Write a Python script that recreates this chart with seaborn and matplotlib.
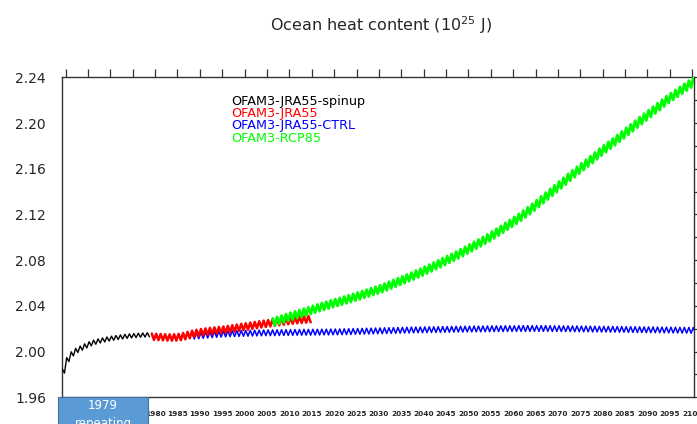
#!/usr/bin/env python3

import numpy as np
import pandas as pd
import matplotlib
matplotlib.use("Agg")
import matplotlib.pyplot as plt
import seaborn as sns
from matplotlib.patches import Rectangle
from matplotlib.ticker import MultipleLocator

# annual mean ocean heat content (1e25 J)
spinup_start = 1959
spinup_ohc = [1.983, 1.993, 1.998, 2.001, 2.003, 2.005, 2.0068, 2.0082, 2.0093, 2.0102,
              2.011, 2.0117, 2.0123, 2.0128, 2.0133, 2.0137, 2.014, 2.0143, 2.0145, 2.0147]

jra55_start = 1979
jra55_ohc = [2.0130, 2.0128, 2.0126, 2.0124, 2.0123, 2.0124, 2.0127, 2.0135, 2.0145, 2.0155,
             2.0163, 2.0170, 2.0175, 2.0180, 2.0184, 2.0188, 2.0192, 2.0197, 2.0203, 2.0209,
             2.0215, 2.0220, 2.0226, 2.0232, 2.0238, 2.0243, 2.0248, 2.0253, 2.0258, 2.0263,
             2.0267, 2.0271, 2.0275, 2.0278, 2.0281, 2.0284]

ctrl_start = 1988
ctrl_ohc = [2.0135, 2.0138, 2.0141, 2.0144, 2.0147, 2.015, 2.0152, 2.0154, 2.0156, 2.0157,
            2.0158, 2.0159,
            2.016, 2.0161, 2.0162, 2.0163, 2.0164, 2.0165, 2.0165, 2.0166, 2.0166, 2.0167,
            2.0167, 2.0168, 2.0168, 2.0169, 2.0169, 2.017, 2.017, 2.0171, 2.0171, 2.0172,
            2.0172, 2.0173, 2.0174, 2.0175, 2.0176, 2.0177, 2.0178, 2.0179, 2.018, 2.0181,
            2.0182, 2.0183, 2.0184, 2.0185, 2.0186, 2.0187, 2.0188, 2.0189, 2.019, 2.019,
            2.0191, 2.0192, 2.0192, 2.0193, 2.0194, 2.0194, 2.0195, 2.0196, 2.0196, 2.0197,
            2.0197, 2.0198, 2.0198, 2.0199, 2.0199, 2.02, 2.02, 2.02, 2.0201, 2.0201,
            2.0201, 2.0202, 2.0202, 2.0202, 2.0202, 2.0202, 2.0202, 2.0202, 2.0201, 2.0201,
            2.0201, 2.02, 2.02, 2.0199, 2.0199, 2.0198, 2.0198, 2.0197, 2.0197, 2.0196,
            2.0196, 2.0195, 2.0195, 2.0194, 2.0194, 2.0193, 2.0193, 2.0192, 2.0192, 2.0191,
            2.0191, 2.019, 2.019, 2.0189, 2.0189, 2.0188, 2.0188, 2.0187, 2.0187, 2.0186,
            2.0186]

rcp85_start = 2006
rcp85_ohc = [2.026, 2.0273, 2.0285, 2.0298,
             2.031, 2.0322, 2.0334, 2.0346, 2.0358, 2.037, 2.0383, 2.0395, 2.0406, 2.0418,
             2.0429, 2.044, 2.0452, 2.0463, 2.0475, 2.0487, 2.05, 2.0512, 2.0525, 2.0537,
             2.055, 2.0565, 2.0581, 2.0597, 2.0613, 2.0629, 2.0645, 2.0661, 2.0678, 2.0695,
             2.0713, 2.0731, 2.075, 2.0768, 2.0787, 2.0806, 2.0825, 2.0845, 2.0866, 2.0887,
             2.0908, 2.093, 2.0951, 2.0973, 2.0995, 2.102, 2.1045, 2.107, 2.1096, 2.1122,
             2.1148, 2.1175, 2.1204, 2.1233, 2.1263, 2.1295, 2.1328, 2.1361, 2.1393, 2.1425,
             2.1458, 2.1491, 2.1525, 2.1556, 2.1587, 2.1618, 2.1649, 2.168, 2.1712, 2.1745,
             2.1775, 2.1805, 2.1835, 2.1865, 2.1896, 2.1927, 2.1958, 2.199, 2.2021, 2.2052,
             2.2082, 2.2113, 2.2143, 2.2174, 2.2205, 2.2232, 2.2259, 2.2286, 2.2313, 2.234,
             2.2367]

# half of the seasonal peak-to-trough swing seen on each curve
seasonal_swing = {
    "OFAM3-JRA55-spinup": 0.0018,
    "OFAM3-JRA55": 0.0028,
    "OFAM3-JRA55-CTRL": 0.0025,
    "OFAM3-RCP85": 0.003,
}

ohc_ticks = [1.96, 2.00, 2.04, 2.08, 2.12, 2.16, 2.20, 2.24]
year_ticks = list(range(1960, 2101, 5))

runs = [
    ("OFAM3-JRA55-spinup", spinup_start, spinup_ohc),
    ("OFAM3-JRA55", jra55_start, jra55_ohc),
    ("OFAM3-JRA55-CTRL", ctrl_start, ctrl_ohc),
    ("OFAM3-RCP85", rcp85_start, rcp85_ohc),
]

# two points a year: seasonal peak then trough around the annual mean
rows = []
for name, start, vals in runs:
    sw = seasonal_swing[name]
    for i, v in enumerate(vals):
        rows.append((name, start + i + 0.25, v + sw))
        rows.append((name, start + i + 0.75, v - sw))
df = pd.DataFrame(rows, columns=["run", "year", "ohc"])

sns.set_style("white")
plt.rcParams["font.family"] = ["DejaVu Sans"]

fig = plt.figure(figsize=(6.97, 4.24), dpi=100)
ax = fig.add_axes([62 / 697, 26.7 / 424, 632 / 697, 320 / 424])

styles = {
    "OFAM3-JRA55-CTRL": ("#0000ff", 1.1, 2),
    "OFAM3-JRA55": ("#ff0000", 1.8, 3),
    "OFAM3-RCP85": ("#00ff00", 2.0, 4),
    "OFAM3-JRA55-spinup": ("black", 1.0, 5),
}
for name in ["OFAM3-JRA55-CTRL", "OFAM3-JRA55", "OFAM3-RCP85", "OFAM3-JRA55-spinup"]:
    c, lw, z = styles[name]
    sns.lineplot(data=df[df.run == name], x="year", y="ohc", color=c, linewidth=lw,
                 estimator=None, sort=False, ax=ax, zorder=z)

ax.set_xlim(1959.2, 2100.4)
ax.set_ylim(1.96, 2.24)
ax.set_xlabel("")
ax.set_ylabel("")
ax.set_xticks(year_ticks)
ax.set_xticklabels([str(y) if y >= 1980 else "" for y in year_ticks],
                   fontsize=5.3, fontweight="bold")
ax.set_yticks(ohc_ticks)
ax.set_yticklabels([f"{t:.2f}" for t in ohc_ticks], fontsize=10)
ax.yaxis.set_minor_locator(MultipleLocator(0.02))
ax.tick_params(axis="both", which="both", direction="out", top=True, right=True,
               length=5.5, width=0.9, color="#333333")
ax.tick_params(axis="x", pad=4.5)
ax.tick_params(axis="y", pad=6)
for s in ax.spines.values():
    s.set_color("#333333")
    s.set_linewidth(1.0)

fig.text(381 / 697, 1 - 25 / 424, "Ocean heat content (10$^{25}$ J)",
         ha="center", va="center", fontsize=11.5)

legend_y = [101, 113.3, 125.6, 138]
for (name, _, _), yy in zip(runs, legend_y):
    fig.text(231.5 / 697, 1 - yy / 424, name, color=styles[name][0],
             ha="left", va="center", fontsize=9.2)

# blue label box pasted under the spin-up years
fig.patches.append(Rectangle((58 / 697, -20 / 424), 89.5 / 697, 47 / 424,
                             transform=fig.transFigure, facecolor="#5b9bd5",
                             edgecolor="#41719c", linewidth=0.8, zorder=10))
fig.text(103 / 697, 1 - 405.5 / 424, "1979", color="white", ha="center",
         va="center", fontsize=8.5, zorder=11)
fig.text(103 / 697, 1 - 423 / 424, "repeating", color="white", ha="center",
         va="center", fontsize=8.5, zorder=11)

fig.savefig("out.png", dpi=100)
